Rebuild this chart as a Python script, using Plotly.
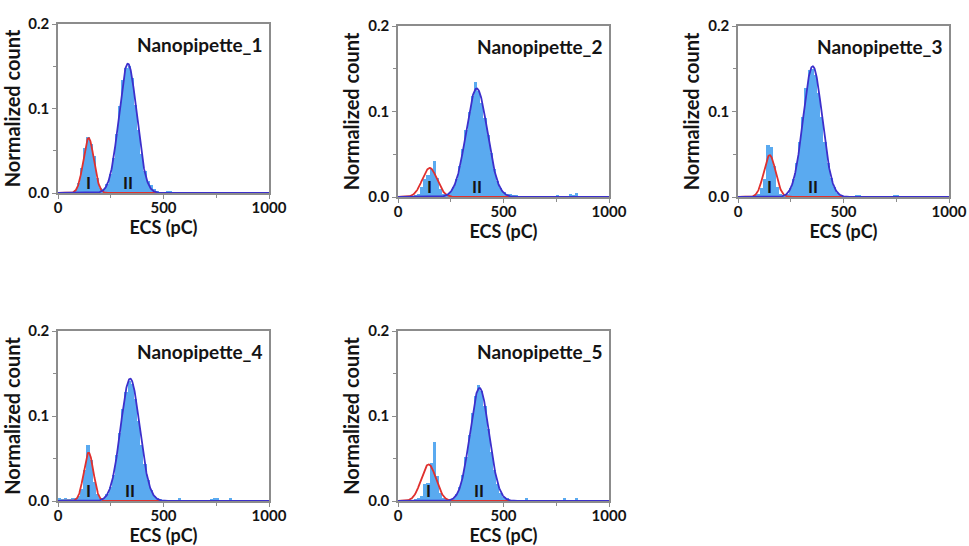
import numpy as np
import plotly.graph_objects as go

# ---------------- data ----------------
BIN_WIDTH = 15  # pC
panel_names = ["Nanopipette_1", "Nanopipette_2", "Nanopipette_3", "Nanopipette_4", "Nanopipette_5"]

counts_1 = [0, 0, 0, 0.001, 0.001, 0.004, 0.012, 0.030, 0.053, 0.066,
            0.058, 0.044, 0.018, 0.006, 0.005, 0.011, 0.022, 0.041, 0.070, 0.103,
            0.134, 0.148, 0.150, 0.136, 0.104, 0.075, 0.046, 0.026, 0.014, 0.009,
            0.005, 0.002, 0.001, 0.001, 0.002, 0.002, 0.001, 0, 0, 0,
            0, 0, 0, 0, 0, 0, 0, 0, 0.001, 0.001,
            0, 0, 0, 0, 0, 0, 0, 0, 0, 0,
            0, 0, 0, 0, 0, 0]
counts_2 = [0, 0, 0, 0.001, 0.001, 0.002, 0.004, 0.012, 0.021, 0.026,
            0.033, 0.042, 0.022, 0.009, 0.004, 0.003, 0.006, 0.012, 0.021, 0.036,
            0.056, 0.078, 0.100, 0.118, 0.134, 0.124, 0.110, 0.092, 0.072, 0.052,
            0.033, 0.019, 0.010, 0.006, 0.004, 0.003, 0.002, 0.002, 0.001, 0.001,
            0, 0.001, 0, 0, 0.001, 0, 0, 0, 0, 0.001,
            0.002, 0, 0, 0, 0.004, 0.002, 0.005, 0, 0, 0,
            0, 0, 0, 0, 0, 0]
counts_3 = [0, 0, 0, 0, 0.001, 0.002, 0.004, 0.010, 0.021, 0.061,
            0.058, 0.036, 0.012, 0.004, 0.002, 0.004, 0.010, 0.021, 0.040, 0.064,
            0.094, 0.128, 0.148, 0.150, 0.143, 0.122, 0.094, 0.064, 0.040, 0.022,
            0.012, 0.005, 0.002, 0.001, 0.001, 0, 0, 0.002, 0.002, 0.001,
            0, 0, 0, 0, 0, 0, 0, 0, 0.001, 0.002,
            0.002, 0.001, 0, 0, 0, 0, 0, 0, 0, 0,
            0, 0, 0, 0, 0, 0]
counts_4 = [0.003, 0.002, 0.003, 0.002, 0.003, 0.004, 0.006, 0.014, 0.036, 0.066,
            0.048, 0.022, 0.008, 0.004, 0.004, 0.008, 0.016, 0.031, 0.054, 0.080,
            0.108, 0.128, 0.141, 0.138, 0.120, 0.094, 0.066, 0.043, 0.025, 0.013,
            0.006, 0.003, 0.002, 0.001, 0.001, 0, 0.001, 0.001, 0.003, 0.001,
            0, 0, 0, 0, 0, 0, 0, 0, 0.002, 0.003,
            0.003, 0.001, 0.001, 0.001, 0.003, 0, 0, 0, 0, 0,
            0, 0, 0, 0, 0, 0]
counts_5 = [0, 0, 0, 0.001, 0.001, 0.002, 0.003, 0.006, 0.020, 0.021,
            0.045, 0.069, 0.030, 0.010, 0.003, 0.002, 0.002, 0.004, 0.008, 0.016,
            0.031, 0.052, 0.078, 0.104, 0.124, 0.137, 0.130, 0.112, 0.085, 0.058,
            0.036, 0.020, 0.010, 0.005, 0.003, 0.001, 0.001, 0, 0, 0,
            0.003, 0.001, 0, 0, 0, 0, 0, 0, 0, 0,
            0, 0, 0.004, 0, 0, 0, 0.003, 0, 0, 0,
            0, 0, 0, 0, 0, 0]
all_counts = [counts_1, counts_2, counts_3, counts_4, counts_5]

# Gaussian fit parameters (peak I and peak II)
peak1_center = [145, 150, 150, 145, 145]
peak1_height = [0.065, 0.034, 0.049, 0.057, 0.043]
peak1_sigma = [25, 35, 28, 23, 35]
peak2_center = [331, 373, 354, 342, 386]
peak2_height = [0.153, 0.127, 0.153, 0.144, 0.133]
peak2_sigma = [42, 50, 45, 45, 45]

x_ticks = [0, 500, 1000]
y_ticks = [0.0, 0.1, 0.2]
y_ticklabels = ["0.0", "0.1", "0.2"]

# ---------------- layout geometry ----------------
W, H = 969, 546
panels_px = [  # left, right, top, bottom in px
    (58, 269, 24, 193),
    (398, 609, 26, 197),
    (738, 949, 26, 197),
    (58, 269, 331, 501),
    (398, 609, 331, 501),
]

FONT = "Lato, 'Open Sans', 'Liberation Sans', sans-serif"
BAR_COLOR = "#5AAAF0"
RED = "#E0302E"
BLUE = "#3C2FCB"
AX_COLOR = "#8C8C8C"
TXT = "#141414"

fig = go.Figure()
xfit = np.linspace(0, 1000, 801)

for k in range(5):
    sfx = "" if k == 0 else str(k + 1)
    xa, ya = "x" + sfx, "y" + sfx
    centers = [BIN_WIDTH / 2 + BIN_WIDTH * i for i in range(len(all_counts[k]))]
    fig.add_trace(go.Bar(x=centers, y=all_counts[k], width=BIN_WIDTH,
                         marker=dict(color=BAR_COLOR, line=dict(width=0)),
                         xaxis=xa, yaxis=ya, showlegend=False, hoverinfo="skip"))
    g1 = peak1_height[k] * np.exp(-0.5 * ((xfit - peak1_center[k]) / peak1_sigma[k]) ** 2)
    g2 = peak2_height[k] * np.exp(-0.5 * ((xfit - peak2_center[k]) / peak2_sigma[k]) ** 2)
    fig.add_trace(go.Scatter(x=xfit, y=g1, mode="lines", line=dict(color=RED, width=1.8),
                             xaxis=xa, yaxis=ya, showlegend=False))
    fig.add_trace(go.Scatter(x=xfit, y=g2, mode="lines", line=dict(color=BLUE, width=1.8),
                             xaxis=xa, yaxis=ya, showlegend=False))

    l, r, t, b = panels_px[k]
    xdom = [l / W, r / W]
    ydom = [1 - b / H, 1 - t / H]
    common = dict(showline=True, linecolor=AX_COLOR, linewidth=1.5, mirror=True,
                  ticks="outside", tickcolor=AX_COLOR, ticklen=4, tickwidth=1,
                  showgrid=False, zeroline=False, automargin=False,
                  tickfont=dict(family=FONT, size=15, color=TXT, weight="bold"))
    fig.layout["xaxis" + sfx] = dict(
        domain=xdom, anchor=ya, range=[0, 1000], tickvals=x_ticks,
        ticklabelstandoff=-4,
        minor=dict(tickvals=[250, 750], ticks="outside", ticklen=3, tickcolor=AX_COLOR),
        title=dict(text="ECS (pC)", font=dict(family=FONT, size=18, color=TXT, weight="bold"),
                   standoff=0),
        **common)
    fig.layout["yaxis" + sfx] = dict(
        domain=ydom, anchor=xa, range=[0, 0.2], tickvals=y_ticks, ticktext=y_ticklabels,
        minor=dict(tickvals=[0.05, 0.15], ticks="outside", ticklen=3, tickcolor=AX_COLOR),
        title=dict(text="Normalized count", font=dict(family=FONT, size=20, color=TXT, weight="bold"),
                   standoff=3),
        **common)

    fig.add_annotation(text=panel_names[k], xref=xa + " domain", yref=ya + " domain",
                       x=0.975, y=0.88, xanchor="right", yanchor="middle", showarrow=False,
                       font=dict(family=FONT, size=19, color=TXT, weight="bold"))
    fig.add_annotation(text="I", xref=xa, yref=ya, x=peak1_center[k], y=0.012,
                       xanchor="center", yanchor="middle", showarrow=False,
                       font=dict(family=FONT, size=17, color=TXT, weight="bold"))
    fig.add_annotation(text="II", xref=xa, yref=ya, x=peak2_center[k], y=0.012,
                       xanchor="center", yanchor="middle", showarrow=False,
                       font=dict(family=FONT, size=17, color=TXT, weight="bold"))

fig.update_layout(width=W, height=H, margin=dict(l=0, r=0, t=0, b=0, autoexpand=False),
                  paper_bgcolor="white", plot_bgcolor="white", bargap=0,
                  font=dict(family=FONT))

fig.write_html("out.html")
